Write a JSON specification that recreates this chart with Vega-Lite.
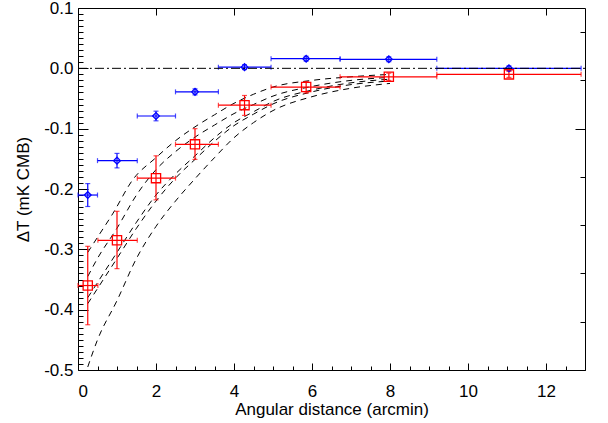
{
  "$schema": "https://vega.github.io/schema/vega-lite/v6.json",
  "width": 507,
  "height": 362,
  "autosize": {"type": "none"},
  "padding": {"left": 78, "top": 8, "right": 23, "bottom": 53},
  "config": {
    "font": "Liberation Sans",
    "view": {"stroke": null},
    "axis": {
      "labelFont": "Liberation Sans",
      "titleFont": "Liberation Sans",
      "labelFontSize": 17,
      "titleFontSize": 17,
      "titleFontWeight": "normal",
      "labelColor": "#000000",
      "titleColor": "#000000",
      "domainColor": "#000000",
      "tickColor": "#000000",
      "grid": false,
      "labelOverlap": false
    }
  },
  "datasets": {
    "points": [
      {"series": "blue", "x": 0.25, "y": -0.21, "xlo": 0.0, "xhi": 0.5, "ylo": -0.229, "yhi": -0.191},
      {"series": "blue", "x": 1.0, "y": -0.153, "xlo": 0.5, "xhi": 1.52, "ylo": -0.165, "yhi": -0.141},
      {"series": "blue", "x": 2.0, "y": -0.079, "xlo": 1.52, "xhi": 2.5, "ylo": -0.087, "yhi": -0.071},
      {"series": "blue", "x": 3.0, "y": -0.039, "xlo": 2.5, "xhi": 3.6, "ylo": -0.044, "yhi": -0.034},
      {"series": "blue", "x": 4.27, "y": 0.002, "xlo": 3.6, "xhi": 4.95, "ylo": -0.002, "yhi": 0.006},
      {"series": "blue", "x": 5.85, "y": 0.016, "xlo": 4.95, "xhi": 6.72, "ylo": 0.012, "yhi": 0.02},
      {"series": "blue", "x": 7.97, "y": 0.015, "xlo": 6.72, "xhi": 9.2, "ylo": 0.011, "yhi": 0.019},
      {"series": "blue", "x": 11.05, "y": 0.0, "xlo": 9.2, "xhi": 12.9, "ylo": -0.004, "yhi": 0.004},
      {"series": "red", "x": 0.25, "y": -0.36, "xlo": 0.0, "xhi": 0.51, "ylo": -0.425, "yhi": -0.295},
      {"series": "red", "x": 1.0, "y": -0.285, "xlo": 0.51, "xhi": 1.52, "ylo": -0.332, "yhi": -0.237},
      {"series": "red", "x": 2.0, "y": -0.182, "xlo": 1.52, "xhi": 2.5, "ylo": -0.218, "yhi": -0.145},
      {"series": "red", "x": 3.0, "y": -0.126, "xlo": 2.5, "xhi": 3.6, "ylo": -0.151, "yhi": -0.1},
      {"series": "red", "x": 4.27, "y": -0.061, "xlo": 3.6, "xhi": 4.95, "ylo": -0.078, "yhi": -0.045},
      {"series": "red", "x": 5.85, "y": -0.031, "xlo": 4.95, "xhi": 6.72, "ylo": -0.041, "yhi": -0.022},
      {"series": "red", "x": 7.97, "y": -0.014, "xlo": 6.72, "xhi": 9.2, "ylo": -0.02, "yhi": -0.008},
      {"series": "red", "x": 11.05, "y": -0.01, "xlo": 9.2, "xhi": 12.9, "ylo": -0.015, "yhi": -0.005}
    ],
    "curves": [
      {"curve": "c1", "x": 0.25, "y": -0.305}, {"curve": "c1", "x": 0.5, "y": -0.28}, {"curve": "c1", "x": 0.9, "y": -0.24}, {"curve": "c1", "x": 1.4, "y": -0.185}, {"curve": "c1", "x": 2.0, "y": -0.148}, {"curve": "c1", "x": 2.5, "y": -0.12}, {"curve": "c1", "x": 3.0, "y": -0.097}, {"curve": "c1", "x": 3.5, "y": -0.077}, {"curve": "c1", "x": 4.0, "y": -0.058}, {"curve": "c1", "x": 4.5, "y": -0.043}, {"curve": "c1", "x": 5.0, "y": -0.031}, {"curve": "c1", "x": 6.0, "y": -0.02}, {"curve": "c1", "x": 7.0, "y": -0.014}, {"curve": "c1", "x": 8.0, "y": -0.01},
      {"curve": "c2", "x": 0.25, "y": -0.345}, {"curve": "c2", "x": 0.5, "y": -0.315}, {"curve": "c2", "x": 1.0, "y": -0.265}, {"curve": "c2", "x": 1.5, "y": -0.21}, {"curve": "c2", "x": 2.0, "y": -0.168}, {"curve": "c2", "x": 2.5, "y": -0.138}, {"curve": "c2", "x": 3.0, "y": -0.114}, {"curve": "c2", "x": 3.5, "y": -0.094}, {"curve": "c2", "x": 4.0, "y": -0.075}, {"curve": "c2", "x": 4.5, "y": -0.06}, {"curve": "c2", "x": 5.0, "y": -0.046}, {"curve": "c2", "x": 6.0, "y": -0.03}, {"curve": "c2", "x": 7.0, "y": -0.02}, {"curve": "c2", "x": 8.0, "y": -0.015},
      {"curve": "c3", "x": 0.25, "y": -0.38}, {"curve": "c3", "x": 0.5, "y": -0.355}, {"curve": "c3", "x": 1.0, "y": -0.305}, {"curve": "c3", "x": 1.5, "y": -0.255}, {"curve": "c3", "x": 2.0, "y": -0.21}, {"curve": "c3", "x": 2.5, "y": -0.175}, {"curve": "c3", "x": 3.0, "y": -0.145}, {"curve": "c3", "x": 3.5, "y": -0.115}, {"curve": "c3", "x": 4.0, "y": -0.09}, {"curve": "c3", "x": 4.5, "y": -0.072}, {"curve": "c3", "x": 5.0, "y": -0.055}, {"curve": "c3", "x": 6.0, "y": -0.036}, {"curve": "c3", "x": 7.0, "y": -0.024}, {"curve": "c3", "x": 8.0, "y": -0.018},
      {"curve": "c4", "x": 0.25, "y": -0.39}, {"curve": "c4", "x": 0.5, "y": -0.365}, {"curve": "c4", "x": 1.0, "y": -0.315}, {"curve": "c4", "x": 1.5, "y": -0.265}, {"curve": "c4", "x": 2.0, "y": -0.22}, {"curve": "c4", "x": 2.5, "y": -0.182}, {"curve": "c4", "x": 3.0, "y": -0.151}, {"curve": "c4", "x": 3.5, "y": -0.121}, {"curve": "c4", "x": 4.0, "y": -0.095}, {"curve": "c4", "x": 4.5, "y": -0.076}, {"curve": "c4", "x": 5.0, "y": -0.059}, {"curve": "c4", "x": 6.0, "y": -0.039}, {"curve": "c4", "x": 7.0, "y": -0.027}, {"curve": "c4", "x": 8.0, "y": -0.021},
      {"curve": "c5", "x": 0.25, "y": -0.495}, {"curve": "c5", "x": 0.5, "y": -0.45}, {"curve": "c5", "x": 1.0, "y": -0.385}, {"curve": "c5", "x": 1.5, "y": -0.315}, {"curve": "c5", "x": 2.0, "y": -0.262}, {"curve": "c5", "x": 2.5, "y": -0.22}, {"curve": "c5", "x": 3.0, "y": -0.183}, {"curve": "c5", "x": 3.5, "y": -0.148}, {"curve": "c5", "x": 4.0, "y": -0.115}, {"curve": "c5", "x": 4.5, "y": -0.09}, {"curve": "c5", "x": 5.0, "y": -0.07}, {"curve": "c5", "x": 6.0, "y": -0.047}, {"curve": "c5", "x": 7.0, "y": -0.033}, {"curve": "c5", "x": 8.0, "y": -0.025}
    ]
  },
  "resolve": {"axis": {"x": "independent", "y": "independent"}},
  "layer": [
    {
      "layer": [
        {
          "data": {"name": "curves"},
          "mark": {"type": "line", "color": "#000000", "strokeWidth": 1, "strokeDash": [6, 5], "interpolate": "monotone"},
          "encoding": {
            "x": {
              "field": "x", "type": "quantitative",
              "scale": {"domain": [0, 13], "nice": false, "zero": false},
              "axis": {
                "orient": "top", "title": null, "labels": false,
                "values": [0, 0.5, 1, 1.5, 2, 2.5, 3, 3.5, 4, 4.5, 5, 5.5, 6, 6.5, 7, 7.5, 8, 8.5, 9, 9.5, 10, 10.5, 11, 11.5, 12, 12.5, 13],
                "tickSize": {"condition": {"test": "datum.value % 2 === 0", "value": -7}, "value": -4}
              }
            },
            "y": {
              "field": "y", "type": "quantitative",
              "scale": {"domain": [-0.5, 0.1], "nice": false, "zero": false},
              "axis": {
                "orient": "right", "title": null, "labels": false,
                "values": [-0.5, -0.49, -0.48, -0.47, -0.46, -0.45, -0.44, -0.43, -0.42, -0.41, -0.4, -0.39, -0.38, -0.37, -0.36, -0.35, -0.34, -0.33, -0.32, -0.31, -0.3, -0.29, -0.28, -0.27, -0.26, -0.25, -0.24, -0.23, -0.22, -0.21, -0.2, -0.19, -0.18, -0.17, -0.16, -0.15, -0.14, -0.13, -0.12, -0.11, -0.1, -0.09, -0.08, -0.07, -0.06, -0.05, -0.04, -0.03, -0.02, -0.01, 0, 0.01, 0.02, 0.03, 0.04, 0.05, 0.06, 0.07, 0.08, 0.09, 0.1],
                "tickSize": {"condition": {"test": "abs(datum.value * 10 - round(datum.value * 10)) < 0.000001", "value": -10}, "value": -5}
              }
            },
            "detail": {"field": "curve"}
          }
        },
        {
          "data": {"name": "points"},
          "mark": {"type": "rule", "strokeWidth": 1.2},
          "encoding": {
            "x": {"field": "xlo", "type": "quantitative"},
            "x2": {"field": "xhi"},
            "y": {"field": "y", "type": "quantitative"},
            "color": {"field": "series", "type": "nominal", "scale": {"domain": ["blue", "red"], "range": ["#0000ff", "#ff0000"]}, "legend": null}
          }
        },
        {
          "data": {"name": "points"},
          "mark": {"type": "rule", "strokeWidth": 1.2},
          "encoding": {
            "x": {"field": "x", "type": "quantitative"},
            "y": {"field": "ylo", "type": "quantitative"},
            "y2": {"field": "yhi"},
            "color": {"field": "series", "type": "nominal", "legend": null}
          }
        },
        {
          "data": {"name": "points"},
          "mark": {"type": "tick", "orient": "vertical", "size": 5, "thickness": 1.2},
          "encoding": {
            "x": {"field": "xlo", "type": "quantitative"},
            "y": {"field": "y", "type": "quantitative"},
            "color": {"field": "series", "type": "nominal", "legend": null}
          }
        },
        {
          "data": {"name": "points"},
          "mark": {"type": "tick", "orient": "vertical", "size": 5, "thickness": 1.2},
          "encoding": {
            "x": {"field": "xhi", "type": "quantitative"},
            "y": {"field": "y", "type": "quantitative"},
            "color": {"field": "series", "type": "nominal", "legend": null}
          }
        },
        {
          "data": {"name": "points"},
          "mark": {"type": "tick", "orient": "horizontal", "size": 5, "thickness": 1.2},
          "encoding": {
            "x": {"field": "x", "type": "quantitative"},
            "y": {"field": "ylo", "type": "quantitative"},
            "color": {"field": "series", "type": "nominal", "legend": null}
          }
        },
        {
          "data": {"name": "points"},
          "mark": {"type": "tick", "orient": "horizontal", "size": 5, "thickness": 1.2},
          "encoding": {
            "x": {"field": "x", "type": "quantitative"},
            "y": {"field": "yhi", "type": "quantitative"},
            "color": {"field": "series", "type": "nominal", "legend": null}
          }
        },
        {
          "data": {"name": "points"},
          "mark": {"type": "point", "filled": false, "strokeWidth": 1.3, "opacity": 1},
          "encoding": {
            "x": {"field": "x", "type": "quantitative"},
            "y": {"field": "y", "type": "quantitative"},
            "color": {"field": "series", "type": "nominal", "legend": null},
            "shape": {"field": "series", "type": "nominal", "scale": {"domain": ["blue", "red"], "range": ["diamond", "square"]}, "legend": null},
            "size": {"field": "series", "type": "nominal", "scale": {"domain": ["blue", "red"], "range": [45, 85]}, "legend": null}
          }
        }
      ]
    },
    {
      "data": {"values": [{"ref": "zero"}]},
      "mark": {"type": "rule", "color": "#000000", "strokeWidth": 1, "strokeDash": [9, 3, 2, 3]},
      "encoding": {
        "x": {
          "datum": 0, "type": "quantitative",
          "axis": {
            "orient": "bottom",
            "title": "Angular distance (arcmin)",
            "values": [0, 0.5, 1, 1.5, 2, 2.5, 3, 3.5, 4, 4.5, 5, 5.5, 6, 6.5, 7, 7.5, 8, 8.5, 9, 9.5, 10, 10.5, 11, 11.5, 12, 12.5, 13],
            "tickSize": {"condition": {"test": "datum.value % 2 === 0", "value": -7}, "value": -4},
            "labelExpr": "datum.value % 2 === 0 ? format(datum.value, 'd') : ''",
            "labelOverlap": false,
            "labelPadding": 20,
            "titlePadding": -1
          }
        },
        "x2": {"datum": 13},
        "y": {
          "datum": 0, "type": "quantitative",
          "axis": {
            "orient": "left",
            "title": "ΔT (mK CMB)",
            "values": [-0.5, -0.49, -0.48, -0.47, -0.46, -0.45, -0.44, -0.43, -0.42, -0.41, -0.4, -0.39, -0.38, -0.37, -0.36, -0.35, -0.34, -0.33, -0.32, -0.31, -0.3, -0.29, -0.28, -0.27, -0.26, -0.25, -0.24, -0.23, -0.22, -0.21, -0.2, -0.19, -0.18, -0.17, -0.16, -0.15, -0.14, -0.13, -0.12, -0.11, -0.1, -0.09, -0.08, -0.07, -0.06, -0.05, -0.04, -0.03, -0.02, -0.01, 0, 0.01, 0.02, 0.03, 0.04, 0.05, 0.06, 0.07, 0.08, 0.09, 0.1],
            "tickSize": {"condition": {"test": "abs(datum.value * 10 - round(datum.value * 10)) < 0.000001", "value": -10}, "value": -5},
            "labelExpr": "abs(datum.value * 10 - round(datum.value * 10)) < 0.000001 ? ((datum.value < -0.000001 ? '-' : '') + format(abs(datum.value), '.1f')) : ''",
            "labelOverlap": false,
            "labelBound": false,
            "labelPadding": 15,
            "titlePadding": 11
          }
        }
      }
    }
  ]
}
